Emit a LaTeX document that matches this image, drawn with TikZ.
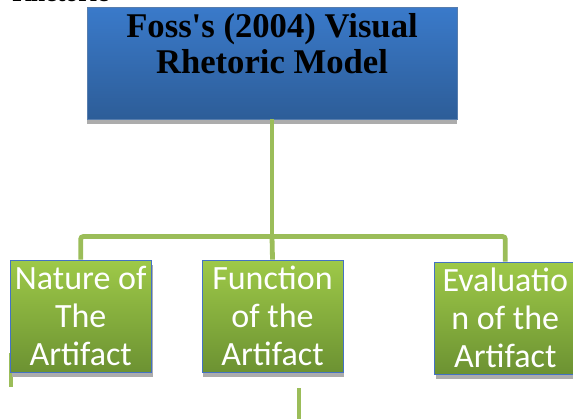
\documentclass[tikz,border=0pt]{standalone}
\usepackage{fontspec}
\setmainfont{Liberation Serif}
\newfontfamily\calibrifont{Carlito}
\usetikzlibrary{positioning, shadows}
\definecolor{modelblue}{RGB}{58,122,202}
\definecolor{modelbluedark}{RGB}{45,93,152}
\definecolor{leafgreen}{RGB}{158,201,72}
\definecolor{leafgreendark}{RGB}{108,146,50}
\definecolor{connectgreen}{RGB}{155,189,89}
\definecolor{edgeblue}{RGB}{68,114,196}
\tikzstyle{model} = [rectangle, minimum width=277.5pt, minimum height=84pt, inner sep=0pt, draw=modelbluedark!80, line width=0.5pt, top color=modelblue, bottom color=modelbluedark, drop shadow={shadow xshift=0pt, shadow yshift=-4pt, fill=gray!65, opacity=1}]
\tikzstyle{leaf} = [rectangle, minimum width=105.75pt, minimum height=84pt, inner sep=0pt, draw=edgeblue, line width=0.6pt, top color=leafgreen, bottom color=leafgreendark, text=white, align=center, font=\calibrifont\fontsize{25.5pt}{28.5pt}\selectfont, drop shadow={shadow xshift=1pt, shadow yshift=-3.5pt, fill=gray!65, opacity=1}]
\tikzstyle{conn} = [connectgreen, line width=3.6pt, rounded corners=2pt]

\begin{document}
\begin{tikzpicture}[x=0.75pt, y=0.75pt]
				\useasboundingbox (0,0) rectangle (573,-418);
				\node (rhetoric_text) [anchor=base west, inner sep=0, font=\bfseries\fontsize{19.4pt}{21pt}\selectfont] at (12,-1.5) {Rhetoric};
				% stray connector pieces
				\coordinate (stray_a_top) at (11,-353);
				\coordinate (stray_a_bottom) at (11,-387);
				\coordinate (stray_b_top) at (299,-388);
				\coordinate (stray_b_bottom) at (299,-420);
				\draw [conn] (stray_a_top) -- (stray_a_bottom);
				\draw [conn] (stray_b_top) -- (stray_b_bottom);
				\node (foss_model) [model] at (272,-63) {\parbox[c][80pt][t]{270pt}{\centering\bfseries\fontsize{26pt}{27pt}\selectfont\vspace{2.5pt}Foss\textquotesingle s (2004) Visual\\Rhetoric Model}};
				\node (function_artifact) [leaf] at (272.5,-316) {Function\\of the\\Artifact};
				\node (nature_artifact) [leaf, left=37.5pt of function_artifact] {Nature of\\The\\Artifact};
				\node (evaluation_artifact) [leaf, right=68.25pt of function_artifact, yshift=-1.5pt] {Evaluatio\\n of the\\Artifact};
				\coordinate (junction) at (272,-236.5);
				\draw [conn] (foss_model.south) -- (junction);
				\draw [conn] (junction) -| (nature_artifact.north);
				\draw [conn] (junction) -- (function_artifact.north);
				\draw [conn] (junction) -| (evaluation_artifact.north);
			\end{tikzpicture}
\end{document}
